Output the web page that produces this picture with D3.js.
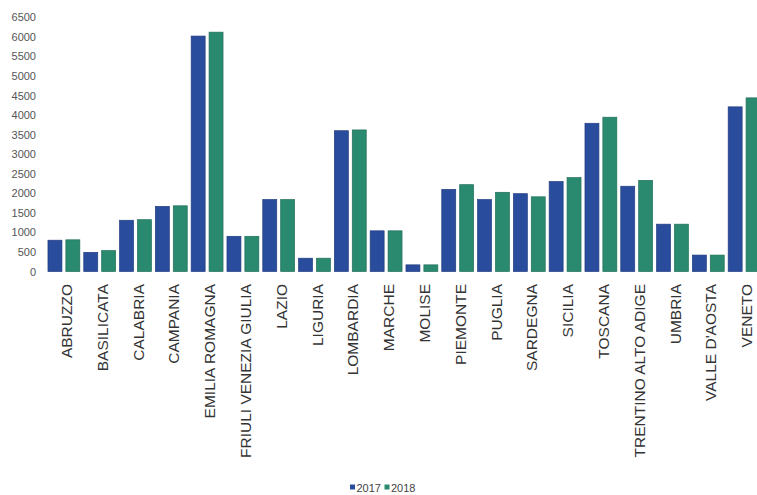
<!DOCTYPE html>
<html>
<head>
<meta charset="utf-8">
<script src="https://cdn.jsdelivr.net/npm/d3@7"></script>
<style>
  html, body { margin: 0; padding: 0; background: #fff; }
  svg { display: block; }
  text { font-family: "Liberation Sans", Arial, sans-serif; }
</style>
</head>
<body>
<svg id="chart" width="757" height="495"></svg>
<script>
// Regions (x-axis categories)
const regions = [
  "ABRUZZO", "BASILICATA", "CALABRIA", "CAMPANIA", "EMILIA ROMAGNA",
  "FRIULI VENEZIA GIULIA", "LAZIO", "LIGURIA", "LOMBARDIA", "MARCHE",
  "MOLISE", "PIEMONTE", "PUGLIA", "SARDEGNA", "SICILIA",
  "TOSCANA", "TRENTINO ALTO ADIGE", "UMBRIA", "VALLE D'AOSTA", "VENETO"
];

// Series
const years = ["2017", "2018"];
const values2017 = [800, 490, 1310, 1665, 6020, 900, 1840, 340, 3600, 1040,
                    170, 2100, 1840, 1990, 2300, 3790, 2180, 1210, 420, 4210];
const values2018 = [810, 535, 1325, 1680, 6120, 900, 1840, 340, 3620, 1040,
                    170, 2220, 2025, 1910, 2400, 3945, 2330, 1210, 420, 4440];

// Y axis ticks
const yTicks = d3.range(0, 6501, 500);

const colors = { "2017": "#2a4c9d", "2018": "#2a8a6f" };

const svg = d3.select("#chart");

const x0 = d3.scaleBand()
  .domain(regions)
  .range([46, 762])
  .paddingInner(0)
  .paddingOuter(0);

const x1 = d3.scaleBand()
  .domain(years)
  .range([0, x0.bandwidth()])
  .paddingInner(0.22)
  .paddingOuter(0.11);

const y = d3.scaleLinear()
  .domain([0, 6500])
  .range([271.5, 17.3]);

const seriesByYear = { "2017": values2017, "2018": values2018 };

// Bars
const groups = svg.append("g").selectAll("g")
  .data(regions)
  .join("g")
  .attr("transform", d => `translate(${x0(d)},0)`);

groups.selectAll("rect")
  .data((d, i) => years.map(yr => ({ year: yr, value: seriesByYear[yr][i] })))
  .join("rect")
  .attr("x", d => x1(d.year))
  .attr("width", x1.bandwidth())
  .attr("y", d => y(d.value))
  .attr("height", d => y(0) - y(d.value))
  .attr("fill", d => colors[d.year])
  .attr("stroke", d => d3.color(colors[d.year]).darker(0.6))
  .attr("stroke-width", 0.7);

// Y axis (labels only)
const yAxis = d3.axisLeft(y)
  .tickValues(yTicks)
  .tickSize(0)
  .tickPadding(0)
  .tickFormat(d3.format("d"));

const yg = svg.append("g")
  .attr("transform", "translate(36,0)")
  .call(yAxis);
yg.select(".domain").remove();
yg.selectAll("text")
  .attr("fill", "#555")
  .style("font-size", "11px");

// X axis labels, rotated
const xAxis = d3.axisBottom(x0).tickSize(0).tickPadding(0);
const xg = svg.append("g")
  .attr("transform", "translate(0,284)")
  .call(xAxis);
xg.select(".domain").remove();
xg.selectAll("text")
  .attr("fill", "#333")
  .style("font-size", "15.5px")
  .attr("text-anchor", "end")
  .attr("x", 0)
  .attr("y", 0)
  .attr("dy", "0.36em")
  .attr("transform", "translate(2.5,0) rotate(-90)");

// Legend
const legend = svg.append("g").attr("transform", "translate(350,488)");
const legendItems = legend.selectAll("g")
  .data(years)
  .join("g")
  .attr("transform", (d, i) => `translate(${i * 34.5},0)`);
legendItems.append("rect")
  .attr("x", 0)
  .attr("y", -3.5)
  .attr("width", 5)
  .attr("height", 5)
  .attr("fill", d => colors[d]);
legendItems.append("text")
  .attr("x", 6.5)
  .attr("y", 0)
  .attr("dy", "0.35em")
  .attr("fill", "#444")
  .style("font-size", "11px")
  .text(d => d);
</script>
</body>
</html>
